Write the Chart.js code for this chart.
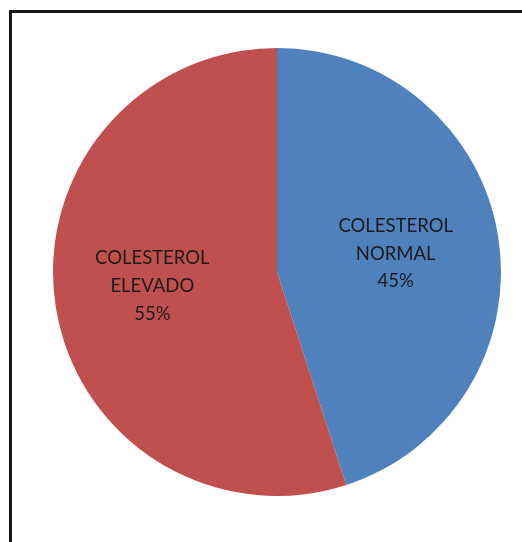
<!DOCTYPE html>
<html>
<head>
<meta charset="utf-8">
<script src="https://cdn.jsdelivr.net/npm/chart.js@4/dist/chart.umd.min.js"></script>
<style>
  html, body { margin: 0; padding: 0; background: #fff; }
  body { width: 522px; height: 542px; position: relative; overflow: hidden; }
  #frame {
    position: absolute; left: 9px; top: 10px; right: 0; bottom: 0;
    border-left: 3px solid #151515; border-top: 3px solid #151515;
  }
  #wrap { position: absolute; left: 53px; top: 48px; width: 448px; height: 448px; }
</style>
</head>
<body>
<div id="frame"></div>
<div id="wrap"><canvas id="c"></canvas></div>
<script>
const categories = [["COLESTEROL", "NORMAL"], ["COLESTEROL", "ELEVADO"]];
const percentages = [45, 55];
const colors = ["#4F81BD", "#C0504D"];

// Draws the category name and percentage inside each slice
const sliceLabels = {
  id: "sliceLabels",
  afterDatasetsDraw(chart, args, opts) {
    const ctx = chart.ctx;
    const meta = chart.getDatasetMeta(0);
    ctx.save();
    ctx.font = "18.5px Lato, 'Open Sans', sans-serif";
    ctx.fillStyle = "#1b1b1b";
    ctx.textAlign = "center";
    ctx.textBaseline = "middle";
    meta.data.forEach((arc, i) => {
      const p = arc.getProps(["x", "y", "startAngle", "endAngle", "outerRadius"], true);
      const mid = (p.startAngle + p.endAngle) / 2;
      const r = p.outerRadius * 0.55;
      const nudge = opts.nudge[i] || [0, 0];
      const cx = p.x + Math.cos(mid) * r + nudge[0];
      const cy = p.y + Math.sin(mid) * r + nudge[1];
      const lines = [...categories[i], percentages[i] + "%"];
      const lh = 27.8;
      lines.forEach((t, k) => {
        ctx.fillText(t, cx, cy + (k - (lines.length - 1) / 2) * lh);
      });
    });
    ctx.restore();
  }
};

new Chart(document.getElementById("c"), {
  type: "pie",
  data: {
    labels: categories.map(c => c.join(" ")),
    datasets: [{
      data: percentages,
      backgroundColor: colors,
      borderWidth: 0
    }]
  },
  options: {
    responsive: true,
    maintainAspectRatio: false,
    animation: false,
    layout: { padding: 0 },
    plugins: {
      legend: { display: false },
      tooltip: { enabled: false },
      sliceLabels: { nudge: [[-3, 1], [-3, -5]] }
    }
  },
  plugins: [sliceLabels]
});
</script>
</body>
</html>
